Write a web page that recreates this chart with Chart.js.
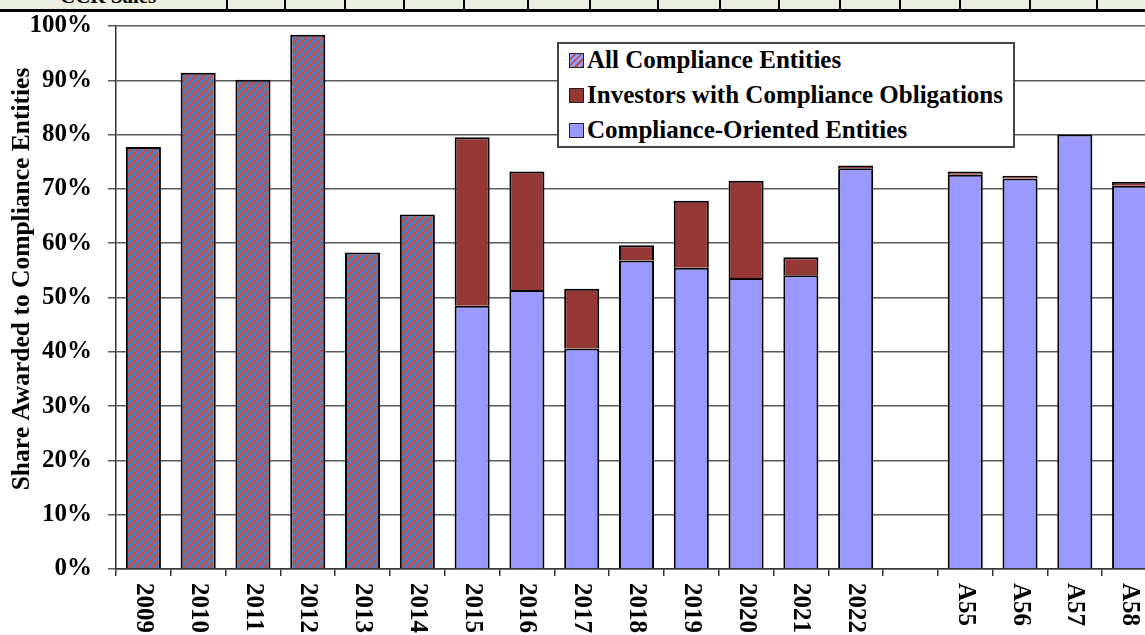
<!DOCTYPE html>
<html>
<head>
<meta charset="utf-8">
<script src="https://cdn.jsdelivr.net/npm/chart.js@4"></script>
<style>
  html, body { margin: 0; padding: 0; background: #fff; overflow: hidden; }
  #wrap { position: relative; width: 1145px; height: 635px; overflow: hidden; }
  #strip { position: absolute; left: 0; top: 0; width: 1145px; height: 9px; background: #ebefdf; border-bottom: 3px solid #000; overflow: hidden; }
  #strip .sep { position: absolute; top: 0; height: 9px; width: 2px; background: #000; }
  #ccr { position: absolute; left: 60px; top: -14px; font: bold 21px "Liberation Serif"; line-height: 21px; white-space: nowrap; }
  #box { position: absolute; left: 0; top: 0; width: 1160px; height: 635px; }
  #legend { position: absolute; left: 557px; top: 42px; width: 454px; height: 102px; background: #fff; border: 2px solid #444;
            font: bold 25px "Liberation Serif"; color: #000; }
  #legend .row { position: absolute; left: 10px; height: 30px; line-height: 30px; white-space: nowrap; }
  #legend .sw { display: inline-block; width: 13px; height: 13px; border: 1.5px solid #222; margin-right: 3px; vertical-align: 0px; }
</style>
</head>
<body>
<div id="wrap">
  <div id="strip">
    <div id="ccr">CCR Sales</div>
    <div class="sep" style="left:226px"></div><div class="sep" style="left:284px"></div><div class="sep" style="left:344px"></div>
    <div class="sep" style="left:403px"></div><div class="sep" style="left:463px"></div><div class="sep" style="left:527px"></div>
    <div class="sep" style="left:589px"></div><div class="sep" style="left:657px"></div><div class="sep" style="left:719px"></div>
    <div class="sep" style="left:778px"></div><div class="sep" style="left:839px"></div><div class="sep" style="left:899px"></div>
    <div class="sep" style="left:959px"></div><div class="sep" style="left:1029px"></div><div class="sep" style="left:1096px"></div>
  </div>
  <div id="box"><canvas id="chart" width="1160" height="635"></canvas></div>
  <div id="legend">
    <div class="row" style="top:1px"><span class="sw" style="background: repeating-linear-gradient(135deg, #9999ff 0 3px, #b05050 3px 4.5px)"></span>All Compliance Entities</div>
    <div class="row" style="top:36px"><span class="sw" style="background:#953735"></span>Investors with Compliance Obligations</div>
    <div class="row" style="top:71px"><span class="sw" style="background:#9999ff"></span>Compliance-Oriented Entities</div>
  </div>
</div>
<script>
  // data (percent)
  const categories = ['2009', '2010', '2011', '2012', '2013', '2014', '2015', '2016', '2017', '2018', '2019',
    '2020', '2021', '2022', '', 'A55', 'A56', 'A57', 'A58']
  const allCompliance = [77.7, 91.4, 90.1, 98.4, 58.3, 65.3, null, null, null, null, null,
    null, null, null, null, null, null, null, null]
  const complianceOriented = [null, null, null, null, null, null, 48.5, 51.4, 40.6, 56.8, 55.5,
    53.6, 54.1, 73.8, null, 72.6, 71.9, 80.0, 70.6]
  const investors = [null, null, null, null, null, null, 31.0, 21.8, 11.0, 2.8, 12.3,
    17.9, 3.3, 0.5, null, 0.6, 0.5, null, 0.7]
  const yTicks = [0, 10, 20, 30, 40, 50, 60, 70, 80, 90, 100]
  const yTitle = 'Share Awarded to Compliance Entities'

  // striped fill for the early years
  let tile = document.createElement('canvas')
  tile.width = 8
  tile.height = 8
  let t = tile.getContext('2d')
  t.fillStyle = '#4f7fbe'
  t.fillRect(0, 0, 8, 8)
  t.strokeStyle = '#c0504d'
  t.lineWidth = 2.8
  t.beginPath()
  for (let k = -8; k <= 16; k += 8) {
    t.moveTo(k, 8)
    t.lineTo(k + 8, 0)
  }
  t.stroke()
  let stripes = t.createPattern(tile, 'repeat')

  Chart.defaults.font.family = '"Liberation Serif", "Times New Roman", serif'
  Chart.defaults.color = '#000'

  // x labels read top to bottom, and the axis title sits a bit above centre
  const textBits = {
    id: 'textBits',
    afterDraw(chart) {
      const ctx = chart.ctx
      const x = chart.scales.x
      ctx.save()
      ctx.font = 'bold 25px "Liberation Serif"'
      ctx.fillStyle = '#000'
      ctx.textAlign = 'left'
      ctx.textBaseline = 'middle'
      categories.forEach((c, i) => {
        ctx.save()
        ctx.translate(x.getPixelForValue(i), x.top + 14)
        ctx.rotate(Math.PI / 2)
        ctx.fillText(c, 0, 0)
        ctx.restore()
      })
      ctx.font = 'bold 25.5px "Liberation Serif"'
      ctx.textAlign = 'center'
      ctx.translate(22, 279)
      ctx.rotate(-Math.PI / 2)
      ctx.fillText(yTitle, 0, 0)
      ctx.restore()
    }
  }

  let ctx = document.getElementById('chart').getContext('2d')
  let barChart = new Chart(ctx, {
    type: 'bar',
    data: {
      labels: categories,
      datasets: [
        { label: 'All Compliance Entities', data: allCompliance, backgroundColor: stripes },
        { label: 'Compliance-Oriented Entities', data: complianceOriented, backgroundColor: '#9999ff' },
        { label: 'Investors with Compliance Obligations', data: investors, backgroundColor: '#953735' }
      ]
    },
    options: {
      responsive: false,
      animation: false,
      layout: { padding: { top: 21, right: 3, left: 0, bottom: 0 } },
      datasets: {
        bar: { borderColor: '#000', borderWidth: 2, categoryPercentage: 1, barPercentage: 0.64 }
      },
      plugins: { legend: { display: false }, tooltip: { enabled: false } },
      scales: {
        x: {
          stacked: true,
          afterFit: (s) => { s.height = 66 },
          ticks: { display: false },
          grid: { drawOnChartArea: false, drawTicks: true, tickLength: 7, color: '#333', lineWidth: 1.5 },
          border: { color: '#333', width: 1.5 }
        },
        y: {
          stacked: true,
          min: 0,
          max: 100,
          afterFit: (s) => { s.width = 116 },
          afterBuildTicks: (s) => { s.ticks = yTicks.map(v => ({ value: v })) },
          ticks: {
            callback: (v) => v + '%',
            font: { size: 25, weight: 'bold', lineHeight: 0.8 },
            color: '#000',
            padding: 16
          },
          grid: { color: '#5a5a5a', lineWidth: 1.5, tickLength: 8 },
          border: { color: '#333', width: 1.5 }
        }
      }
    },
    plugins: [textBits]
  })
</script>
</body>
</html>
